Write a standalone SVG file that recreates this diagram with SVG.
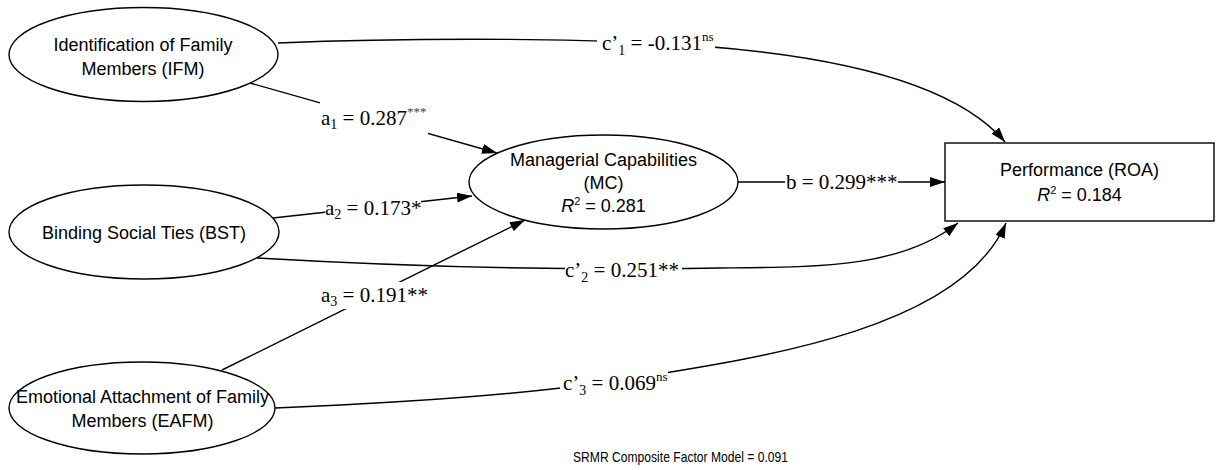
<svg xmlns="http://www.w3.org/2000/svg" width="1216" height="470" viewBox="0 0 1216 470">
<style>
.node{fill:#fff;stroke:#000;stroke-width:1.4}
.nt{font-family:"Liberation Sans",Arial,sans-serif;font-size:18px;fill:#000;text-anchor:middle}
.edge{fill:none;stroke:#000;stroke-width:1.4}
.lbl{font-family:"Liberation Serif","Times New Roman",serif;font-size:21px;fill:#000}
.bg{fill:#fff;stroke:none}
.note{font-family:"Liberation Sans",Arial,sans-serif;font-size:14.5px;fill:#000}
</style>
<defs>
<marker id="arr" markerWidth="15" markerHeight="10" refX="15" refY="5" orient="auto" markerUnits="userSpaceOnUse">
<path d="M0,0 L15,5 L0,10 z" fill="#000"/>
</marker>
</defs>
<rect width="1216" height="470" fill="#fff"/>
<g id="connectors">
<path class="edge" d="M278,43 C400,38 550,38 650,43 C760,48 940,65 1005,142" marker-end="url(#arr)"/>
<path class="edge" d="M250,83 L497,153" marker-end="url(#arr)"/>
<path class="edge" d="M273,218 L472,196" marker-end="url(#arr)"/>
<path class="edge" d="M222,370 L525,220" marker-end="url(#arr)"/>
<path class="edge" d="M738,182 L945,182" marker-end="url(#arr)"/>
<path class="edge" d="M257,258 Q500,272 720,268 C820,267 901,268 958,223" marker-end="url(#arr)"/>
<path class="edge" d="M275,408 C400,403 520,395 615,381 C760,358 960,330 1006,223" marker-end="url(#arr)"/>
<rect class="bg" x="597" y="30" width="118" height="26"/>
<text class="lbl" x="602" y="50">c’<tspan font-size="14" dy="5">1</tspan><tspan dy="-5"> = -0.131</tspan><tspan font-size="13" dy="-9">ns</tspan></text>
<rect class="bg" x="320" y="102" width="108" height="32"/>
<text class="lbl" x="321" y="125">a<tspan font-size="14" dy="4">1</tspan><tspan dy="-4"> = 0.287</tspan><tspan font-size="13" dy="-9" fill="#444">***</tspan></text>
<rect class="bg" x="325" y="199" width="96" height="19"/>
<text class="lbl" x="325" y="215">a<tspan font-size="14" dy="4">2</tspan><tspan dy="-4"> = 0.173*</tspan></text>
<rect class="bg" x="321" y="282" width="106" height="27"/>
<text class="lbl" x="321" y="302">a<tspan font-size="14" dy="4">3</tspan><tspan dy="-4"> = 0.191**</tspan></text>
<rect class="bg" x="785" y="172" width="113" height="21"/>
<text class="lbl" x="786" y="189">b = 0.299***</text>
<rect class="bg" x="565" y="258" width="117" height="24"/>
<text class="lbl" x="565" y="277">c’<tspan font-size="14" dy="5">2</tspan><tspan dy="-5"> = 0.251**</tspan></text>
<rect class="bg" x="560" y="367" width="108" height="29"/>
<text class="lbl" x="563" y="390">c’<tspan font-size="14" dy="5">3</tspan><tspan dy="-5"> = 0.069</tspan><tspan font-size="13" dy="-9">ns</tspan></text>
</g>
<g id="IFM">
<ellipse class="node" cx="143.5" cy="54.5" rx="134.5" ry="47"/>
<text class="nt" x="143" y="51">Identification of Family</text>
<text class="nt" x="143" y="75">Members (IFM)</text>
</g>
<g id="BST">
<ellipse class="node" cx="144" cy="232" rx="135" ry="47"/>
<text class="nt" x="144" y="239">Binding Social Ties (BST)</text>
</g>
<g id="EAFM">
<ellipse class="node" cx="142" cy="408" rx="133" ry="46"/>
<text class="nt" x="142.5" y="403">Emotional Attachment of Family</text>
<text class="nt" x="142.5" y="427">Members (EAFM)</text>
</g>
<g id="MC">
<ellipse class="node" cx="603.5" cy="182" rx="134.5" ry="47"/>
<text class="nt" x="603.5" y="166">Managerial Capabilities</text>
<text class="nt" x="603.5" y="189">(MC)</text>
<text class="nt" x="603.5" y="212"><tspan font-style="italic">R</tspan><tspan font-size="11" dy="-7">2</tspan><tspan dy="7"> = 0.281</tspan></text>
</g>
<g id="ROA">
<rect class="node" x="945" y="143" width="269" height="78"/>
<text class="nt" x="1079.5" y="176">Performance (ROA)</text>
<text class="nt" x="1079.5" y="201"><tspan font-style="italic">R</tspan><tspan font-size="11" dy="-7">2</tspan><tspan dy="7"> = 0.184</tspan></text>
</g>
<g id="SRMR">
<text class="note" x="573" y="462" textLength="215" lengthAdjust="spacingAndGlyphs">SRMR Composite Factor Model = 0.091</text>
</g>
</svg>
